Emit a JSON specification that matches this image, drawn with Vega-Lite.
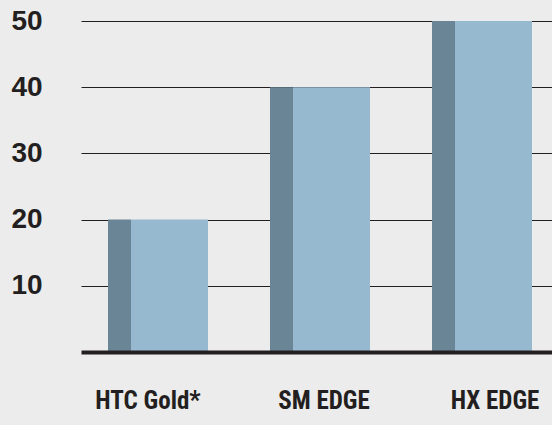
{
  "$schema": "https://vega.github.io/schema/vega-lite/v6.json",
  "width": 486,
  "height": 331,
  "autosize": {"type": "none"},
  "padding": {"left": 81, "top": 21, "right": 0, "bottom": 73},
  "background": "#ececec",
  "config": {"view": {"stroke": null}},
  "data": {"values": [
    {"device": "HTC Gold*", "value": 20},
    {"device": "SM EDGE", "value": 40},
    {"device": "HX EDGE", "value": 50}
  ]},
  "encoding": {
    "x": {
      "field": "device", "type": "nominal", "sort": null,
      "scale": {"paddingInner": 0, "paddingOuter": 0},
      "axis": {
        "title": null, "zindex": 1, "domain": true, "domainColor": "#231f20", "domainWidth": 4,
        "ticks": false, "labelAngle": 0,
        "labelFont": "Roboto Condensed, Liberation Sans Narrow, Roboto",
        "labelFontSize": 25, "labelFontWeight": "bold", "labelColor": "#231f20",
        "labelPadding": 36, "labelBaseline": "top",
        "labelOffset": {"condition": [
          {"test": "datum.value === 'HTC Gold*'", "value": -14},
          {"test": "datum.value === 'HX EDGE'", "value": 9}
        ], "value": 0}
      }
    },
    "y": {
      "field": "value", "type": "quantitative",
      "scale": {"domain": [0, 50]},
      "axis": {
        "title": null, "values": [10, 20, 30, 40, 50],
        "grid": true, "gridColor": "#231f20", "gridWidth": 1.2, "gridOpacity": 1,
        "domain": false, "ticks": false, "tickSize": 0,
        "labelAlign": "left", "labelPadding": 70, "labelFlush": false,
        "labelFont": "Liberation Sans", "labelFontSize": 28, "labelFontWeight": "bold",
        "labelColor": "#231f20", "labelBaseline": "middle"
      }
    }
  },
  "layer": [
    {"mark": {"type": "bar", "width": 23, "xOffset": -42.5, "color": "#6a8595"}},
    {"mark": {"type": "bar", "width": 77, "xOffset": 7.5, "color": "#97b9cf"}}
  ]
}
